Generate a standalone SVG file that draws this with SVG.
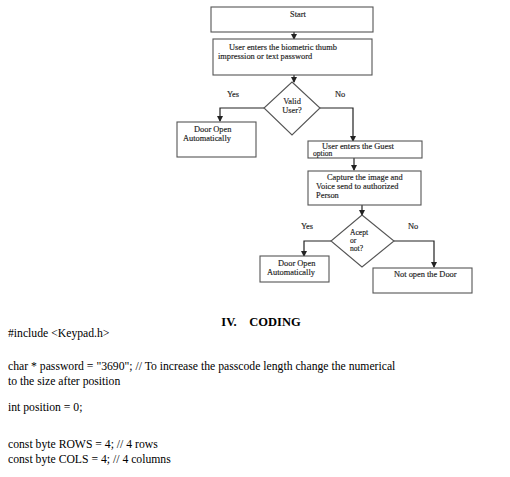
<svg xmlns="http://www.w3.org/2000/svg" width="510" height="477" viewBox="0 0 510 477">
<style>
.box{fill:#fff;stroke:#555;stroke-width:1.1}
.ft{font-family:"Liberation Serif",serif;font-size:8.4px;fill:#222;stroke:#222;stroke-width:0.15}
.sm{font-size:7.6px}
.ln{fill:none;stroke:#222;stroke-width:1.2}
.code{font-family:"Liberation Serif",serif;font-size:11.7px;fill:#000}
</style>
<defs>
<marker id="ah" markerWidth="6" markerHeight="6" refX="5" refY="3" orient="auto" markerUnits="userSpaceOnUse">
<path d="M0,0 L6,3 L0,6 z" fill="#222"/>
</marker>
</defs>
<rect width="510" height="477" fill="#fff"/>
<g id="connectors">
<line class="ln" x1="294" y1="32" x2="294" y2="39" marker-end="url(#ah)"/>
<line class="ln" x1="294" y1="75" x2="294" y2="82" marker-end="url(#ah)"/>
<polyline class="ln" points="264,108 220,108 220,121" marker-end="url(#ah)"/>
<polyline class="ln" points="320,108 353,108 353,141" marker-end="url(#ah)"/>
<line class="ln" x1="354" y1="158" x2="354" y2="170" marker-end="url(#ah)"/>
<line class="ln" x1="362" y1="205" x2="362" y2="215" marker-end="url(#ah)"/>
<polyline class="ln" points="331,241 304,241 304,256" marker-end="url(#ah)"/>
<polyline class="ln" points="394,241 434,241 434,267" marker-end="url(#ah)"/>
</g>
<g id="start">
<rect class="box" x="211" y="7" width="162" height="25"/>
<text class="ft" x="298" y="17" text-anchor="middle">Start</text>
</g>
<g id="enter">
<rect class="box" x="213" y="39" width="159" height="36"/>
<text class="ft" x="229" y="50">User enters the biometric thumb</text>
<text class="ft" x="218" y="59">impression or text password</text>
</g>
<g id="valid">
<polygon class="box" points="292,82 320,108 292,135 264,108"/>
<text class="ft" x="292" y="104" text-anchor="middle">Valid</text>
<text class="ft" x="292" y="113" text-anchor="middle">User?</text>
<text class="ft" x="233" y="97" text-anchor="middle">Yes</text>
<text class="ft" x="340" y="97" text-anchor="middle">No</text>
</g>
<g id="door1">
<rect class="box" x="177" y="122" width="79" height="35"/>
<text class="ft" x="194" y="132">Door Open</text>
<text class="ft" x="183" y="141">Automatically</text>
</g>
<g id="guest">
<rect class="box" x="308" y="141" width="114" height="17"/>
<text class="ft" x="322" y="148.5">User enters the Guest</text>
<text class="ft sm" x="313" y="156">option</text>
</g>
<g id="capture">
<rect class="box" x="308" y="171" width="113" height="34"/>
<text class="ft" x="327" y="180">Capture the image and</text>
<text class="ft" x="316" y="189">Voice send to authorized</text>
<text class="ft" x="316" y="198">Person</text>
</g>
<g id="accept">
<polygon class="box" points="362,215 394,241 362,267 331,241"/>
<text class="ft sm" x="350" y="235">Acept</text>
<text class="ft sm" x="350" y="243">or</text>
<text class="ft sm" x="350" y="251">not?</text>
<text class="ft" x="307" y="229" text-anchor="middle">Yes</text>
<text class="ft" x="413" y="229" text-anchor="middle">No</text>
</g>
<g id="door2">
<rect class="box" x="260" y="256" width="69" height="26"/>
<text class="ft" x="278" y="266">Door  Open</text>
<text class="ft" x="267" y="275">Automatically</text>
</g>
<g id="notopen">
<rect class="box" x="373" y="268" width="99" height="25"/>
<text class="ft" x="394" y="277">Not open the Door</text>
</g>
<text x="261" y="326" text-anchor="middle" style="font-family:'Liberation Serif',serif;font-size:12.5px;font-weight:bold" xml:space="preserve">IV.    CODING</text>
<text class="code" x="8" y="337">#include &lt;Keypad.h&gt;</text>
<text class="code" x="8" y="370">char * password = "3690"; // To increase the passcode length change the numerical</text>
<text class="code" x="8" y="385">to the size after position</text>
<text class="code" x="8" y="411">int position = 0;</text>
<text class="code" x="8" y="448">const byte ROWS = 4; // 4 rows</text>
<text class="code" x="8" y="463">const byte COLS = 4; // 4 columns</text>
</svg>
